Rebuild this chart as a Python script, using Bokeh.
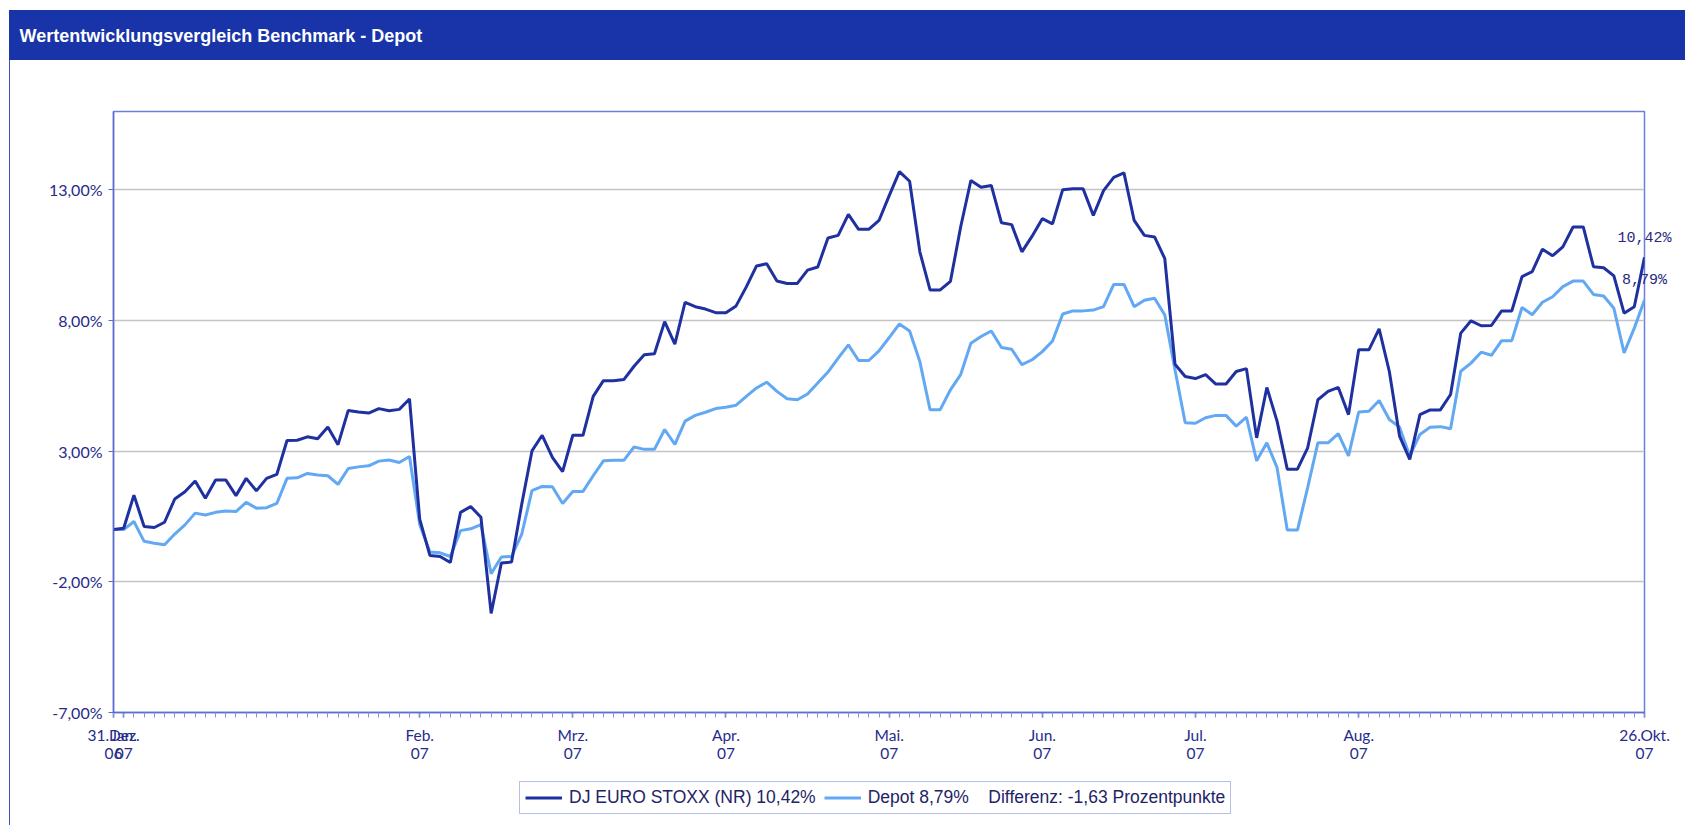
from bokeh.plotting import figure
from bokeh.layouts import column
from bokeh.models import (Range1d, FixedTicker, Label, ColumnDataSource, Legend, LegendItem)
from bokeh.embed import file_html
from bokeh.resources import INLINE

title_text = "Wertentwicklungsvergleich Benchmark - Depot"
series_names = ["DJ EURO STOXX (NR)", "Depot"]
diff_text = "Differenz:"
diff_unit = "Prozentpunkte"

# DJ EURO STOXX (NR), % since 31.12.2006
dark = [
    0.0, 0.05, 1.32, 0.12, 0.08, 0.28, 1.17, 1.45, 1.86, 1.2,
    1.9, 1.9, 1.3, 1.96, 1.48, 1.96, 2.11, 3.41, 3.42, 3.55,
    3.48, 3.93, 3.25, 4.56, 4.5, 4.46, 4.63, 4.55, 4.6, 5.0,
    0.4, -0.99, -1.03, -1.26, 0.66, 0.88, 0.47, -3.21, -1.28, -1.24,
    0.98, 3.01, 3.61, 2.76, 2.22, 3.61, 3.61, 5.1, 5.7, 5.7,
    5.74, 6.25, 6.69, 6.73, 7.96, 7.1, 8.7, 8.53, 8.44, 8.3,
    8.3, 8.56, 9.29, 10.09, 10.17, 9.51, 9.42, 9.42, 9.93, 10.05,
    11.16, 11.26, 12.06, 11.49, 11.49, 11.83, 12.78, 13.7, 13.33, 10.63,
    9.17, 9.17, 9.5, 11.58, 13.36, 13.1, 13.17, 11.74, 11.67, 10.63,
    11.23, 11.9, 11.7, 13.01, 13.04, 13.04, 12.02, 12.97, 13.48, 13.65,
    11.83, 11.26, 11.2, 10.37, 6.33, 5.86, 5.78, 5.93, 5.57, 5.57,
    6.05, 6.16, 3.51, 5.44, 4.15, 2.31, 2.31, 3.13, 4.97, 5.29,
    5.44, 4.4, 6.88, 6.88, 7.68, 6.05, 3.58, 2.69, 4.4, 4.58,
    4.58, 5.17, 7.52, 7.99, 7.8, 7.81, 8.37, 8.37, 9.68, 9.87,
    10.73, 10.48, 10.82, 11.58, 11.58, 10.06, 10.02, 9.71, 8.28, 8.53,
    10.42,
]

# Depot, % since 31.12.2006
light = [
    0.0, 0.0, 0.31, -0.45, -0.52, -0.58, -0.17, 0.18, 0.63, 0.56,
    0.66, 0.71, 0.69, 1.04, 0.82, 0.84, 1.0, 1.96, 1.98, 2.15,
    2.09, 2.06, 1.73, 2.34, 2.4, 2.44, 2.62, 2.66, 2.57, 2.8,
    0.2, -0.86, -0.89, -1.03, -0.04, 0.03, 0.19, -1.69, -1.05, -1.03,
    -0.17, 1.49, 1.65, 1.64, 1.0, 1.46, 1.46, 2.06, 2.63, 2.65,
    2.65, 3.16, 3.07, 3.07, 3.83, 3.26, 4.15, 4.37, 4.49, 4.63,
    4.68, 4.76, 5.1, 5.42, 5.64, 5.29, 5.01, 4.97, 5.19, 5.61,
    6.03, 6.56, 7.07, 6.47, 6.47, 6.84, 7.35, 7.87, 7.6, 6.43,
    4.59, 4.59, 5.35, 5.93, 7.13, 7.39, 7.6, 6.97, 6.9, 6.31,
    6.5, 6.81, 7.22, 8.25, 8.37, 8.37, 8.4, 8.53, 9.38, 9.38,
    8.53, 8.78, 8.85, 8.21, 6.12, 4.09, 4.07, 4.28, 4.37, 4.37,
    3.96, 4.3, 2.63, 3.32, 2.37, -0.02, -0.02, 1.61, 3.32, 3.32,
    3.67, 2.82, 4.5, 4.53, 4.94, 4.21, 3.92, 2.82, 3.64, 3.92,
    3.94, 3.86, 6.06, 6.37, 6.79, 6.67, 7.23, 7.23, 8.5, 8.22,
    8.7, 8.91, 9.3, 9.51, 9.51, 9.0, 8.94, 8.47, 6.76, 7.71,
    8.79,
]

month_tick_idx = [0, 1, 30, 45, 60, 76, 91, 106, 122, 150]
month_tick_labels = ["31.Dez.\n06", "Jan.\n07", "Feb.\n07", "Mrz.\n07", "Apr.\n07",
                     "Mai.\n07", "Jun.\n07", "Jul.\n07", "Aug.\n07", "26.Okt.\n07"]
y_ticks = [-7, -2, 3, 8, 13]
y_min, y_max = -7, 16


def de_num(v):
    return f"{v:.2f}".replace(".", ",")


def de_pct(v):
    return de_num(v) + "%"


DARK = "#1f30a0"
LIGHT = "#62a8f3"
TITLE_BG = "#1834a8"
FRAME_BLUE = "#6b7fd8"
AXIS_BLUE = "#5b6ed0"
BORDER_BLUE = "#3a4fc0"
LABEL_COL = "#262b8a"
SANS = "'Liberation Sans', Arial, sans-serif"
MONO = "'Liberation Mono', 'DejaVu Sans Mono', monospace"

# page layout (px)
W, H = 1685, 825
MAIN_H = 764                      # chart part; the legend strip fills the rest
FRAME_LEFT, FRAME_TOP, FRAME_RIGHT, FRAME_BOTTOM = 113, 111, 1644, 714
BAR_TOP, BAR_BOTTOM, BOX_LEFT = 10, 60, 9
LEGEND_LEFT, LEGEND_BOTTOM = 519, 814

idx = list(range(len(dark)))
src = ColumnDataSource(dict(idx=idx, dark=dark, light=light))

px_per_x = (FRAME_RIGHT - FRAME_LEFT) / (idx[-1] - idx[0])
px_per_y = (FRAME_BOTTOM - FRAME_TOP) / (y_max - y_min)


def x_at(px):
    return idx[0] + (px - FRAME_LEFT) / px_per_x


def y_at(py):
    return y_max - (py - FRAME_TOP) / px_per_y


left_line = (f"linear-gradient(90deg, #ffffff {BOX_LEFT}px, {BORDER_BLUE} {BOX_LEFT}px, "
             f"{BORDER_BLUE} {BOX_LEFT + 1.5}px, #ffffff {BOX_LEFT + 1.5}px)")
# page chrome behind the (transparent) plot border: title bar and left frame line
main_bg = ", ".join([
    f"linear-gradient(180deg, #ffffff {BAR_TOP}px, rgba(255,255,255,0) {BAR_TOP}px)",
    (f"linear-gradient(180deg, rgba(0,0,0,0) {BAR_TOP}px, {TITLE_BG} {BAR_TOP}px, "
     f"{TITLE_BG} {BAR_BOTTOM}px, rgba(0,0,0,0) {BAR_BOTTOM}px) {BOX_LEFT}px 0px / 100% 100% no-repeat"),
    left_line,
])

p = figure(width=W, height=MAIN_H, x_range=Range1d(idx[0], idx[-1]), y_range=Range1d(y_min, y_max),
           output_backend="svg", toolbar_location=None,
           min_border_left=FRAME_LEFT, min_border_right=W - FRAME_RIGHT,
           min_border_top=FRAME_TOP, min_border_bottom=MAIN_H - FRAME_BOTTOM,
           styles={"background": main_bg})
p.background_fill_color = "white"
p.border_fill_alpha = 0.0
p.outline_line_color = FRAME_BLUE
p.outline_line_width = 1.5

# grid
p.xgrid.visible = False
p.ygrid.ticker = FixedTicker(ticks=y_ticks)
p.ygrid.grid_line_color = "#c4c4c4"
p.ygrid.grid_line_width = 1.5

# y axis
ya = p.yaxis[0]
ya.ticker = FixedTicker(ticks=y_ticks)
ya.major_label_overrides = {t: de_pct(t) for t in y_ticks}
ya.axis_line_color = AXIS_BLUE
ya.axis_line_width = 1.5
ya.major_tick_line_color = AXIS_BLUE
ya.major_tick_out = 5
ya.major_tick_in = 0
ya.minor_tick_out = 0
ya.minor_tick_in = 0
ya.major_label_text_font = "Lato"
ya.major_label_text_font_size = "16px"
ya.major_label_text_color = LABEL_COL
ya.major_label_standoff = 6

# x axis
xa = p.xaxis[0]
xa.ticker = FixedTicker(ticks=month_tick_idx, minor_ticks=idx)
xa.major_label_overrides = dict(zip(month_tick_idx, month_tick_labels))
xa.axis_line_color = AXIS_BLUE
xa.axis_line_width = 1.5
xa.major_tick_line_color = "#3a48a8"
xa.major_tick_line_width = 1.5
xa.minor_tick_line_color = "#8293de"
xa.major_tick_out = 5
xa.major_tick_in = 0
xa.minor_tick_out = 5
xa.minor_tick_in = 0
xa.major_label_text_font = "Lato"
xa.major_label_text_font_size = "15.5px"
xa.major_label_text_color = LABEL_COL
xa.major_label_text_line_height = 1.0
xa.major_label_standoff = 8

# lines
p.line("idx", "light", source=src, line_color=LIGHT, line_width=3)
p.line("idx", "dark", source=src, line_color=DARK, line_width=3)

# title text on the bar
p.add_layout(Label(x=x_at(19), y=y_at((BAR_TOP + BAR_BOTTOM) / 2), text=title_text,
                   text_align="left", text_baseline="middle", text_color="white",
                   text_font=SANS, text_font_size="18px", text_font_style="bold"), "above")

# end-value labels
for v in (dark[-1], light[-1]):
    p.add_layout(Label(x=idx[-1], y=v + 19 / px_per_y, text=de_pct(v),
                       text_align="center", text_baseline="middle", text_font=MONO,
                       text_font_size="15px", text_color="#2a2a80"), "above")

# legend strip under the chart (its frame is aligned with the chart frame)
LEG_H = H - MAIN_H
pl = figure(width=W, height=LEG_H, x_range=Range1d(0, 1), y_range=Range1d(0, 1),
            output_backend="svg", toolbar_location=None, min_border=0,
            x_axis_location=None, y_axis_location=None, styles={"background": left_line})
pl.grid.visible = False
pl.outline_line_color = None
pl.background_fill_alpha = 0.0
pl.border_fill_alpha = 0.0
nan = float("nan")
# legend proxies: no visible marks, only their line style is used by the legend
ld = pl.line(x=[0, 1], y=[nan, nan], line_color=DARK, line_width=3)
ll = pl.line(x=[0, 1], y=[nan, nan], line_color=LIGHT, line_width=3)

diff = light[-1] - dark[-1]
lab1 = f"{series_names[0]} {de_pct(dark[-1])}"
lab2 = (f"{series_names[1]} {de_pct(light[-1])}\u00a0\u00a0\u00a0\u00a0"
        f"{diff_text} {de_num(diff)} {diff_unit}")
legend = Legend(items=[LegendItem(label=lab1, renderers=[ld]),
                       LegendItem(label=lab2, renderers=[ll])],
                location=(LEGEND_LEFT - FRAME_LEFT, H - LEGEND_BOTTOM),
                orientation="horizontal", margin=0,
                padding=5, spacing=8, glyph_width=37, glyph_height=17, label_height=17,
                label_standoff=7, label_text_font=SANS, label_text_font_size="17.5px",
                label_text_color="#1e2466", border_line_color=FRAME_BLUE, border_line_width=1.5,
                background_fill_color="white", background_fill_alpha=1.0)
pl.add_layout(legend)

layout = column(p, pl, spacing=0)
open("out.html", "w").write(file_html(layout, INLINE))
